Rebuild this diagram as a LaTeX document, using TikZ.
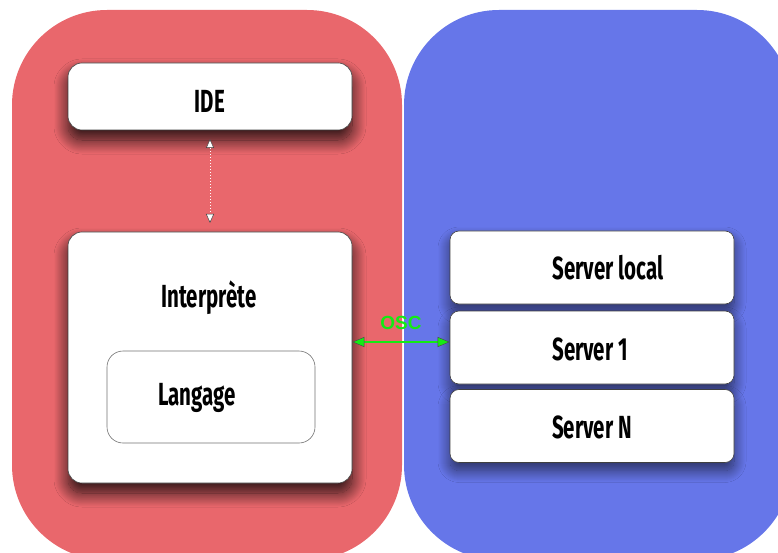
\documentclass[tikz,border=0pt]{standalone}
\usepackage{fontspec}
\setmainfont{Fira Sans}[FakeStretch=0.64]
\newfontfamily\oscfont{Liberation Sans}
\usetikzlibrary{arrows.meta,shadows.blur}
\definecolor{regred}{RGB}{233,103,108}
\definecolor{regblue}{RGB}{102,118,233}
\definecolor{oscgreen}{RGB}{20,235,20}
\tikzset{
  region/.style={rounded corners=95pt},
  card/.style={draw=black!75, line width=0.6pt, fill=white, rounded corners=14pt,
    blur shadow={shadow xshift=0pt, shadow yshift=-10pt, shadow blur radius=14pt, shadow opacity=85, shadow blur steps=25}},
  srvshadow/.style={rounded corners=9pt, inner sep=0pt,
    minimum width=284pt, minimum height=73pt,
    blur shadow={shadow xshift=0pt, shadow yshift=-8pt, shadow blur radius=12pt, shadow opacity=60, shadow blur steps=25}},
  srv/.style={draw=black!75, line width=0.6pt, fill=white, rounded corners=9pt,
    minimum width=284pt, minimum height=73pt},
  inner/.style={draw=black!55, line width=0.6pt, fill=white, rounded corners=16pt},
  lbl/.style={font=\fontsize{32}{34}\selectfont\bfseries, text=black, inner sep=0pt},
}
\begin{document}
\begin{tikzpicture}[x=1pt,y=-1pt]
\useasboundingbox (0,0) rectangle (778,553);
\clip (0,0) rectangle (778,553);
% regions
\fill[regred, region] (12,10) rectangle (402,560);
\fill[regblue, region] (404,10) rectangle (792,560);
% IDE
\node[card, minimum width=284pt, minimum height=67pt] (ide) at (210,96.5) {};
\node[lbl] (idet) at (210,101) {IDE};
% Interprete
\node[card, minimum width=284pt, minimum height=251pt] (interp) at (210,357.5) {};
\node[lbl] (interpt) at (209,298) {Interprète};
\node[inner, minimum width=208pt, minimum height=92pt] (lang) at (211,397) {};
\node[lbl] (langt) at (197,398) {Langage};
% servers
\node[srvshadow] (shl) at (592,267.5) {};
\node[srvshadow] (sh1) at (592,347.5) {};
\node[srvshadow] (shN) at (592,426) {};
\node[srv] (srvl) at (592,267.5) {};
\node[srv] (srv1) at (592,347.5) {};
\node[srv] (srvN) at (592,426) {};
\node[lbl] (srvlt) at (608,268) {Server local};
\node[lbl] (srv1t) at (590,349) {Server 1};
\node[lbl] (srvNt) at (592,427) {Server N};
% IDE <-> Interprete
\coordinate (a1) at (210,139);
\coordinate (a2) at (210,223);
\draw[white, line width=1pt, dash pattern=on 1.5pt off 1.5pt,
  {Triangle[length=9pt,width=8pt,fill=white,color=black!75,line width=0.5pt]}-{Triangle[length=9pt,width=8pt,fill=white,color=black!75,line width=0.5pt]}]
  (a1) -- (a2);
% OSC
\coordinate (o1) at (interp.east |- 0,342);
\coordinate (o2) at (srv1.west |- 0,342);
\draw[oscgreen, line width=1.2pt,
  {Triangle[length=12pt,width=10pt,fill=oscgreen,color=black!70,line width=0.5pt]}-{Triangle[length=12pt,width=10pt,fill=oscgreen,color=black!70,line width=0.5pt]}]
  (o1) -- (o2);
\node[text=oscgreen, font=\oscfont\fontsize{19}{20}\selectfont\bfseries, inner sep=0pt] (osc) at (401,323) {OSC};
\end{tikzpicture}
\end{document}
